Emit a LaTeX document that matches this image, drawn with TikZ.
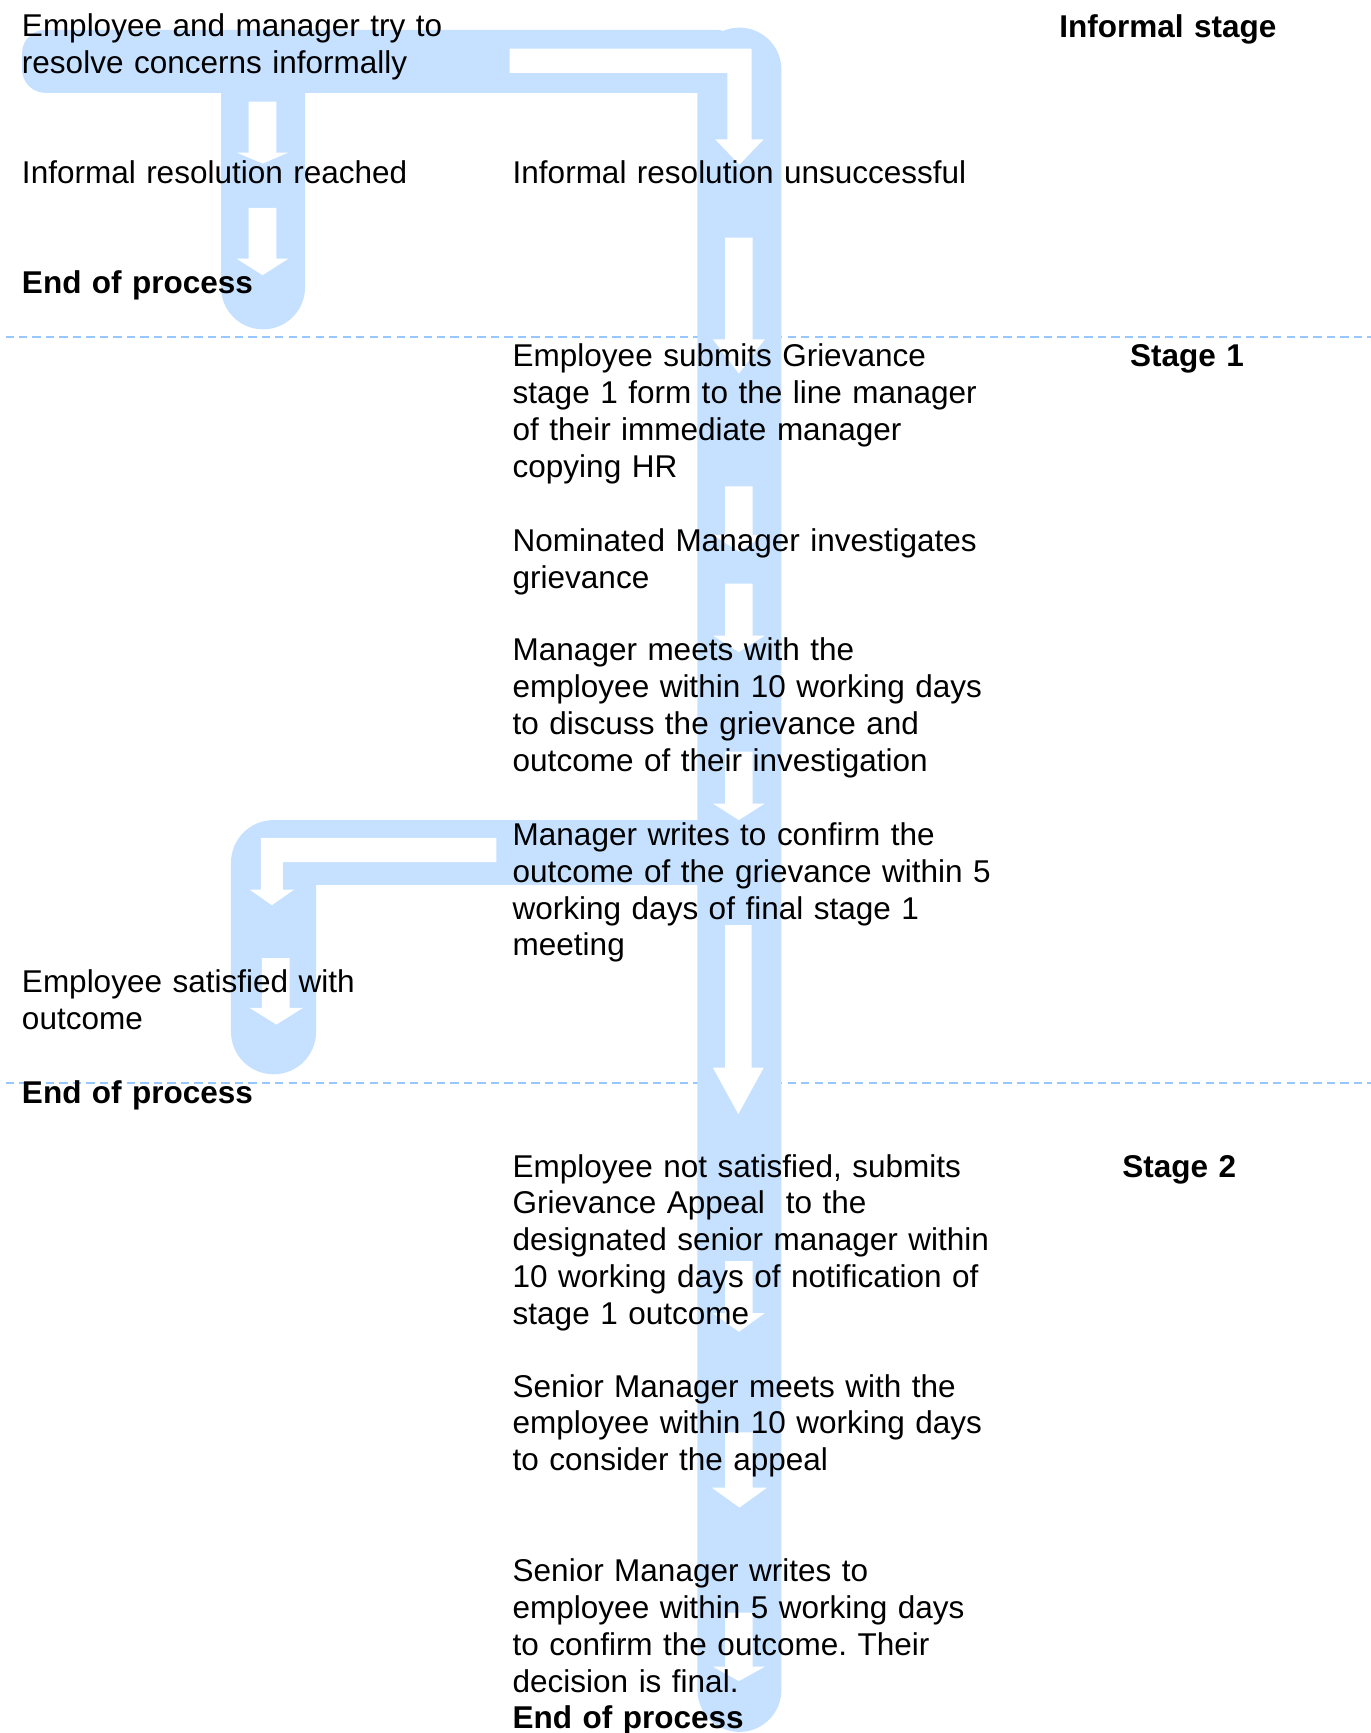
\documentclass[tikz,border=0pt]{standalone}
\usepackage{fontspec}
\setmainfont{Liberation Sans}
\frenchspacing
\definecolor{bandblue}{RGB}{197,225,255}
\definecolor{dashblue}{RGB}{150,200,255}
\newcommand{\whitedown}[7]{%
  \fill[warrow] (#1,#5) -- (#2,#5) -- (#2,#6) -- (#4,#6) -- ({(#3+#4)/2},#7) -- (#3,#6) -- (#1,#6) -- cycle;}
\begin{document}
\begin{tikzpicture}[x=0.5pt,y=-0.5pt,
  bandfill/.style={fill=bandblue, draw=none},
  warrow/.style={fill=white, draw=none},
  sepline/.style={draw=dashblue, line width=0.9pt, dash pattern=on 3.75pt off 2.35pt},
  txt/.style={anchor=base west, inner sep=0pt, text width=270pt, align=left,
    font=\fontsize{14.25}{16.65}\selectfont\frenchspacing},
  lbl/.style={txt, font=\fontsize{14.25}{16.65}\selectfont\bfseries}]
\useasboundingbox[fill=white] (0,0) rectangle (1240,1568);

% stage separators
\draw[sepline] (5,304.5) -- (1240,304.5);
\draw[sepline] (5,980) -- (1240,980);

% blue bands
\fill[bandfill, rounded corners=10.5pt] (20,27) rectangle (669,84);
\fill[bandfill, rounded corners=19pt] (200,40) rectangle (276,298);
\fill[bandfill] (247,742) rectangle (669,801);
\fill[bandfill, rounded corners=19.25pt] (209,742) rectangle (286,972);
\fill[bandfill, rounded corners=19pt] (631,25) rectangle (707,1567);

% white arrows
\fill[warrow] (461,44) -- (680,44) -- (680,126) -- (691,126) -- (669,149) -- (647,126) -- (658,126) -- (658,66) -- (461,66) -- cycle;
\whitedown{225}{250}{214}{261}{92}{138}{148}
\whitedown{225}{250}{214}{261}{188}{234}{249}
\whitedown{656}{681}{645}{692}{215}{307}{338}
\whitedown{656}{681}{645}{692}{440}{484}{499}
\whitedown{656}{681}{645}{692}{528}{575}{590}
\whitedown{656}{681}{645}{692}{680}{727}{742}
\whitedown{656}{680}{645}{691}{837}{966}{1008}
\whitedown{656}{681}{645}{692}{1141}{1188}{1205}
\whitedown{656}{681}{644}{694}{1296}{1346}{1364}
\whitedown{656}{681}{645}{692}{1459}{1508}{1521}
\fill[warrow] (449,758) -- (236,758) -- (236,805) -- (226,805) -- (246,819) -- (266,805) -- (256,805) -- (256,780) -- (449,780) -- cycle;
\whitedown{237}{262}{226}{274}{867}{912}{927}

% left column
\node[txt] (try) at (19.5,33) {Employee and manager try to\\resolve concerns informally};
\node[txt] (reached) at (19.5,165.8) {Informal resolution reached};
\node[lbl] (end1) at (19.5,265.3) {End of process};
\node[txt] (satisfied) at (19.5,898) {Employee satisfied with\\outcome};
\node[lbl] (end2) at (19.5,998) {End of process};

% main column
\node[txt] (unsucc) at (463.5,165.8) {Informal resolution unsuccessful};
\node[txt] (submit) at (463.5,332) {Employee submits Grievance\\stage 1 form to the line manager\\of their immediate manager\\copying HR};
\node[txt] (invest) at (463.5,499) {Nominated Manager investigates\\grievance};
\node[txt] (meets) at (463.5,598) {Manager meets with the\\employee within 10 working days\\to discuss the grievance and\\outcome of their investigation};
\node[txt] (writes) at (463.5,765) {Manager writes to confirm the\\outcome of the grievance within 5\\working days of final stage 1\\meeting};
\node[txt] (appeal) at (463.5,1065) {Employee not satisfied, submits\\Grievance Appeal~ to the\\designated senior manager within\\10 working days of notification of\\stage 1 outcome};
\node[txt] (smeets) at (463.5,1264) {Senior Manager meets with the\\employee within 10 working days\\to consider the appeal};
\node[txt] (swrites) at (463.5,1431) {Senior Manager writes to\\employee within 5 working days\\to confirm the outcome. Their\\decision is final.\\\textbf{End of process}};

% stage labels
\node[lbl] (informal) at (958,33.5) {Informal stage};
\node[lbl] (stage1) at (1022,332) {Stage 1};
\node[lbl] (stage2) at (1015,1065) {Stage 2};
\end{tikzpicture}
\end{document}
